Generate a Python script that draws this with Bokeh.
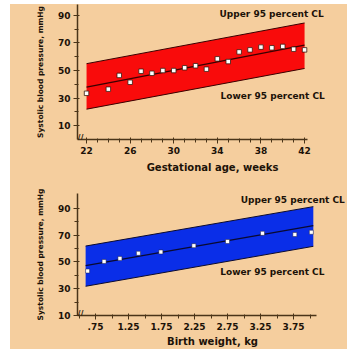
from bokeh.plotting import figure
from bokeh.layouts import column
from bokeh.models import Range1d, FixedTicker, Label, ColumnDataSource
from bokeh.embed import file_html
from bokeh.resources import INLINE

# ---- data: gestational age panel ----
ga_weeks = [22, 24, 25, 26, 27, 28, 29, 30, 31, 32, 33, 34, 35, 36, 37, 38, 39, 40, 41, 42]
ga_sbp = [33.5, 36.5, 46.5, 41.5, 49.5, 48, 50, 50, 52, 53.5, 51, 58.5, 56.5, 63.5, 65, 67, 66.5, 67.5, 65.5, 65]
ga_band_x = [22, 42]
ga_upper = [55, 84.5]
ga_fit = [38, 68.5]
ga_lower = [22, 51.5]
ga_ticks = [22, 26, 30, 34, 38, 42]

# ---- data: birth weight panel ----
bw_kg = [0.63, 0.88, 1.12, 1.40, 1.74, 2.24, 2.75, 3.28, 3.77, 4.02]
bw_sbp = [43.2, 50.3, 52.6, 56.4, 57.4, 62.1, 65.2, 71.3, 70.4, 72.1]
bw_band_x = [0.6, 4.05]
bw_upper = [61.8, 91.2]
bw_fit = [47.2, 77.0]
bw_lower = [31.8, 61.6]
bw_ticks = [0.75, 1.25, 1.75, 2.25, 2.75, 3.25, 3.75]
bw_tick_labels = {0.75: ".75", 1.25: "1.25", 1.75: "1.75", 2.25: "2.25", 2.75: "2.75", 3.25: "3.25", 3.75: "3.75"}

y_ticks = [10, 30, 50, 70, 90]
y_minor = [20, 40, 60, 80]

BG = "#F5CE9E"
INK = "#1c1208"
AXIS = "#4a3418"
FONT = "DejaVu Sans"


def style(p):
    p.background_fill_color = BG
    p.border_fill_color = BG
    p.outline_line_color = None
    p.grid.visible = False
    for ax in (p.xaxis[0], p.yaxis[0]):
        ax.axis_line_color = AXIS
        ax.axis_line_width = 1.5
        ax.major_tick_line_color = AXIS
        ax.minor_tick_line_color = AXIS
        ax.major_tick_in = 2
        ax.major_tick_out = 4
        ax.minor_tick_in = 1
        ax.minor_tick_out = 3
        ax.major_label_text_font = FONT
        ax.major_label_text_font_style = "bold"
        ax.major_label_text_font_size = "9px"
        ax.major_label_text_color = INK
        ax.axis_label_text_font = FONT
        ax.axis_label_text_font_style = "bold"
        ax.axis_label_text_color = INK
        ax.major_label_standoff = 3
    p.yaxis[0].axis_label_text_font_size = "7.5px"
    p.xaxis[0].axis_label_text_font_size = "10px"
    p.yaxis[0].axis_label_standoff = 10
    p.yaxis[0].ticker = FixedTicker(ticks=y_ticks, minor_ticks=y_minor)


def lab(p, x, y, text, size="9px"):
    p.add_layout(Label(x=x, y=y, text=text, text_font=FONT, text_font_style="bold",
                       text_font_size=size, text_color=INK, text_baseline="middle"))


# ---------------- top panel ----------------
p1 = figure(width=337, height=171, output_backend="svg", toolbar_location=None,
            x_range=Range1d(21.17, 45.94), y_range=Range1d(0, 97.9),
            min_border_left=67, min_border_right=0, min_border_top=0, min_border_bottom=34)
style(p1)
p1.xaxis[0].axis_label_standoff = 5
p1.xaxis[0].ticker = FixedTicker(ticks=ga_ticks, minor_ticks=list(range(22, 43)))
p1.xaxis[0].bounds = (21.17, 42.28)
p1.xaxis.axis_label = "Gestational age, weeks"
p1.yaxis.axis_label = "Systolic blood pressure, mmHg"

s1 = ColumnDataSource(dict(x=ga_band_x, up=ga_upper, lo=ga_lower, fit=ga_fit))
p1.varea(x="x", y1="lo", y2="up", source=s1, fill_color="#F90B0B")
p1.line(x="x", y="up", source=s1, line_color="#3a0000", line_width=1)
p1.line(x="x", y="lo", source=s1, line_color="#3a0000", line_width=1)
p1.line(x="x", y="fit", source=s1, line_color="#3a0000", line_width=1.2)
p1.scatter(ga_weeks, ga_sbp, marker="square", size=4.5, fill_color="white",
           line_color="#3a1a10", line_width=0.8)
lab(p1, 34.2, 90.7, "Upper 95 percent CL")
lab(p1, 34.3, 31.4, "Lower 95 percent CL")
lab(p1, 21.17, 0.8, "//", size="8px")

# ---------------- bottom panel ----------------
p2 = figure(width=337, height=174, output_backend="svg", toolbar_location=None,
            x_range=Range1d(0.477, 4.568), y_range=Range1d(10, 101),
            min_border_left=67, min_border_right=0, min_border_top=18, min_border_bottom=27)
style(p2)
p2.xaxis[0].axis_label_standoff = 3
p2.xaxis[0].ticker = FixedTicker(ticks=bw_ticks,
                                 minor_ticks=[0.5 + 0.25 * i for i in range(15)])
p2.xaxis[0].bounds = (0.477, 4.098)
p2.xaxis[0].major_label_overrides = bw_tick_labels
p2.xaxis.axis_label = "Birth weight, kg"
p2.yaxis.axis_label = "Systolic blood pressure, mmHg"

s2 = ColumnDataSource(dict(x=bw_band_x, up=bw_upper, lo=bw_lower, fit=bw_fit))
p2.varea(x="x", y1="lo", y2="up", source=s2, fill_color="#0A2EE8")
p2.line(x="x", y="up", source=s2, line_color="#0a0a30", line_width=1)
p2.line(x="x", y="lo", source=s2, line_color="#0a0a30", line_width=1)
p2.line(x="x", y="fit", source=s2, line_color="#0a0a30", line_width=1.2)
p2.scatter(bw_kg, bw_sbp, marker="square", size=4, fill_color="white",
           line_color="#202040", line_width=0.5)
lab(p2, 2.95, 95.9, "Upper 95 percent CL")
lab(p2, 2.64, 42.7, "Lower 95 percent CL")
lab(p2, 0.477, 10.8, "//", size="8px")

layout = column(p1, p2, spacing=0,
                styles={"background-color": BG, "margin-left": "10px", "margin-top": "4px"})
open("out.html", "w").write(file_html(layout, INLINE))
